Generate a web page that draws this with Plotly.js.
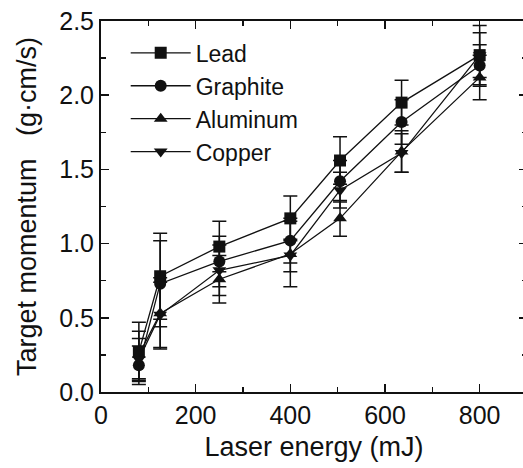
<!DOCTYPE html>
<html>
<head>
<meta charset="utf-8">
<script src="https://cdn.plot.ly/plotly-3.0.1.min.js"></script>
<style>
html,body{margin:0;padding:0;overflow:hidden;background:#fff;}
#wrap{width:523px;height:468px;overflow:hidden;}
#chart{width:528px;height:468px;}
</style>
</head>
<body>
<div id="wrap"><div id="chart"></div></div>
<script>
const energy = [80, 125, 250, 400, 505, 635, 800];

const leadY     = [0.27, 0.78, 0.98, 1.17, 1.56, 1.95, 2.27];
const leadErr   = [0.20, 0.29, 0.17, 0.15, 0.16, 0.15, 0.15];
const graphY    = [0.18, 0.73, 0.88, 1.02, 1.42, 1.82, 2.20];
const graphErr  = [0.13, 0.29, 0.17, 0.15, 0.14, 0.15, 0.14];
const aluY      = [0.25, 0.53, 0.76, 0.93, 1.17, 1.62, 2.12];
const aluErr    = [0.16, 0.24, 0.16, 0.22, 0.12, 0.14, 0.15];
const copY      = [0.22, 0.52, 0.82, 0.92, 1.36, 1.61, 2.27];
const copErr    = [0.14, 0.22, 0.17, 0.11, 0.12, 0.13, 0.20];

const names   = ["Lead", "Graphite", "Aluminum", "Copper"];
const symbols = ["square", "circle", "triangle-up", "triangle-down"];
const ys   = [leadY, graphY, aluY, copY];
const errs = [leadErr, graphErr, aluErr, copErr];

const traces = names.map((n, i) => ({
  x: energy, y: ys[i], name: n, type: "scatter", mode: "lines+markers",
  line: {color: "#111", width: 1.3},
  marker: {symbol: symbols[i], size: 12, color: "#111"},
  error_y: {type: "data", array: errs[i], visible: true, color: "#111", thickness: 1.5, width: 7}
}));

const fontFam = "Liberation Sans, Arial, Helvetica, sans-serif";
const layout = {
  width: 528, height: 468,
  margin: {l: 101, r: 1, t: 21, b: 76},
  paper_bgcolor: "#fff", plot_bgcolor: "#fff",
  font: {family: fontFam, color: "#111", size: 25},
  showlegend: true,
  legend: {x: 0.058, y: 0.972, xanchor: "left", yanchor: "top",
           bgcolor: "rgba(0,0,0,0)", font: {size: 23, family: fontFam},
           itemwidth: 60, tracegroupgap: 0},
  xaxis: {
    range: [0, 900], dtick: 200, tick0: 0,
    ticks: "inside", ticklen: 8, tickwidth: 1.5, tickcolor: "#111",
    minor: {dtick: 100, ticks: "inside", ticklen: 5, tickwidth: 1.5, tickcolor: "#111"},
    showline: true, linewidth: 2, linecolor: "#111", mirror: "allticks",
    showgrid: false, zeroline: false,
    tickfont: {size: 25},
    title: {text: "Laser energy (mJ)", font: {size: 27}, standoff: 9}
  },
  yaxis: {
    range: [0, 2.5], dtick: 0.5, tick0: 0, tickformat: ".1f",
    ticks: "inside", ticklen: 8, tickwidth: 1.5, tickcolor: "#111",
    minor: {dtick: 0.25, ticks: "inside", ticklen: 5, tickwidth: 1.5, tickcolor: "#111"},
    showline: true, linewidth: 2, linecolor: "#111", mirror: "allticks",
    showgrid: false, zeroline: false,
    tickfont: {size: 25},
    title: {text: "Target momentum\u00a0\u00a0 (g·cm/s)", font: {size: 27}, standoff: 15}
  }
};

Plotly.newPlot("chart", traces, layout, {displayModeBar: false, staticPlot: true});
</script>
</body>
</html>
